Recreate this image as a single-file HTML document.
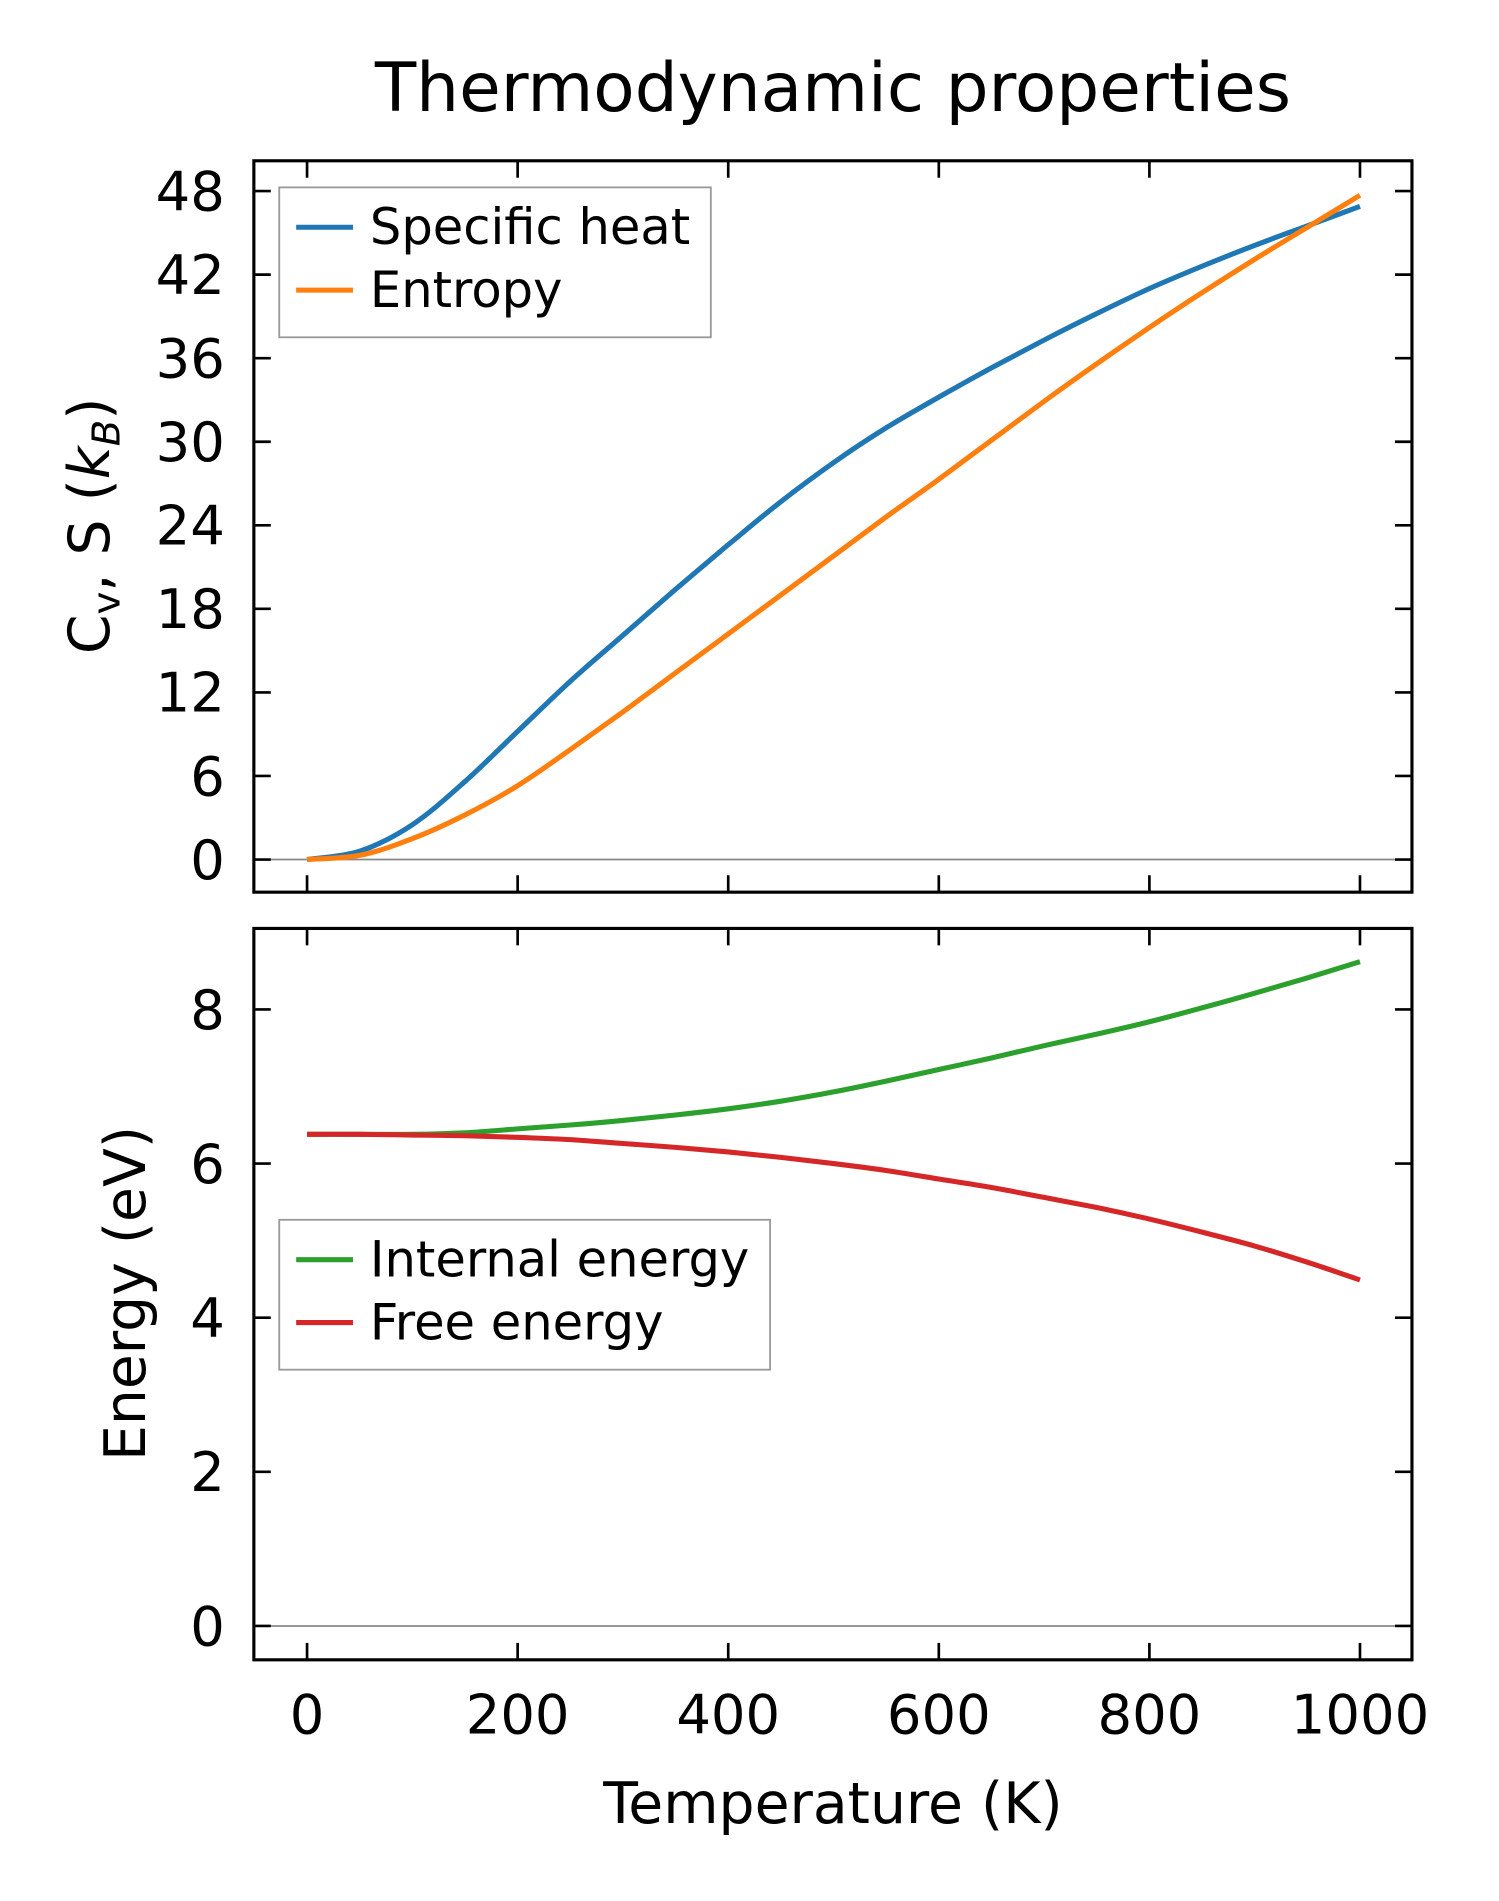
<!DOCTYPE html>
<html><head><meta charset="utf-8"><style>
html,body{margin:0;padding:0;background:#fff;}
svg{display:block;}
text{font-family:"DejaVu Sans","Liberation Sans",sans-serif;fill:#000;}
</style></head><body>
<svg id="chart" width="1499" height="1901" viewBox="0 0 1240 1572.5" preserveAspectRatio="none" xmlns="http://www.w3.org/2000/svg">
<text x="689" y="92" font-size="56" text-anchor="middle">Thermodynamic properties</text>
<g id="top"></g>
<g id="bot"></g>
<text x="689" y="1508" font-size="47" text-anchor="middle">Temperature (K)</text>
<text transform="translate(90,435) rotate(-90)" font-size="47" text-anchor="middle">C<tspan font-size="32" dy="9">v</tspan><tspan dy="-9">, S (</tspan><tspan font-style="italic">k</tspan><tspan font-size="32" dy="9" font-style="italic">B</tspan><tspan dy="-9">)</tspan></text>
<text transform="translate(120,1070) rotate(-90)" font-size="47" text-anchor="middle">Energy (eV)</text>
</svg>
<script>
const temps = [0,50,100,150,200,250,300,350,400,450,500,550,600,650,700,750,800,850,900,950,1000];
const specificHeat = [0,0.6,2.5,5.6,9.2,12.8,16.1,19.4,22.6,25.7,28.5,31.0,33.2,35.3,37.3,39.2,41.0,42.6,44.1,45.5,46.9];
const entropy = [0,0.3,1.5,3.2,5.3,7.9,10.6,13.4,16.2,19.0,21.8,24.6,27.3,30.1,32.9,35.6,38.2,40.7,43.1,45.4,47.7];
const internalEnergy = [6.38,6.38,6.38,6.40,6.45,6.50,6.56,6.63,6.71,6.81,6.93,7.07,7.22,7.37,7.53,7.68,7.84,8.02,8.21,8.41,8.62];
const freeEnergy = [6.38,6.38,6.37,6.36,6.34,6.31,6.26,6.21,6.15,6.08,6.00,5.91,5.80,5.69,5.56,5.43,5.28,5.11,4.93,4.72,4.49];
const xTicks = [0,200,400,600,800,1000];
const topTicks = [0,6,12,18,24,30,36,42,48];
const botTicks = [0,2,4,6,8];
const NS="http://www.w3.org/2000/svg";
const L=210,R=1168;
const xs=v=>254+(v/1000)*871;
function mk(tag,attrs,parent){const e=document.createElementNS(NS,tag);for(const k in attrs)e.setAttribute(k,attrs[k]);parent.appendChild(e);return e;}
function smooth(pts){
  let d='M'+pts[0][0].toFixed(1)+','+pts[0][1].toFixed(1);
  for(let i=0;i<pts.length-1;i++){
    const p0=pts[Math.max(0,i-1)],p1=pts[i],p2=pts[i+1],p3=pts[Math.min(pts.length-1,i+2)];
    const c1=[p1[0]+(p2[0]-p0[0])/6,p1[1]+(p2[1]-p0[1])/6];
    const c2=[p2[0]-(p3[0]-p1[0])/6,p2[1]-(p3[1]-p1[1])/6];
    d+='C'+c1[0].toFixed(1)+','+c1[1].toFixed(1)+' '+c2[0].toFixed(1)+','+c2[1].toFixed(1)+' '+p2[0].toFixed(1)+','+p2[1].toFixed(1);
  }
  return d;
}
function panel(g,top,bottom,ys,ticks,series,legend,pname){
  mk('line',{x1:L,x2:R,y1:ys(0),y2:ys(0),stroke:'#888','stroke-width':1.5},g);
  series.forEach(s=>{
    const p=mk('path',{d:smooth(temps.map((t,i)=>[xs(t),ys(s.v[i])])),fill:'none',stroke:s.c,'stroke-width':4.2},g);
    
    
  });
  xTicks.forEach(t=>{
    const a=mk('line',{x1:xs(t),x2:xs(t),y1:bottom,y2:bottom-14,stroke:'#000','stroke-width':2.2},g);
    
    
    mk('line',{x1:xs(t),x2:xs(t),y1:top,y2:top+14,stroke:'#000','stroke-width':2.2},g);
  });
  ticks.forEach(t=>{
    const y=ys(t);
    const a=mk('line',{x1:L,x2:L+14,y1:y,y2:y,stroke:'#000','stroke-width':2.2},g);
    
    
    mk('line',{x1:R,x2:R-14,y1:y,y2:y,stroke:'#000','stroke-width':2.2},g);
    const tx=mk('text',{x:186,y:y+16,'font-size':45,'text-anchor':'end'},g);
    tx.textContent=t;
    
    
  });
  const f=mk('rect',{x:L,y:top,width:R-L,height:bottom-top,fill:'none',stroke:'#000','stroke-width':2.6},g);
  
  
  const lg=mk('g',{},g);
  
  
  mk('rect',{x:231,y:legend.y,width:legend.w,height:124,fill:'#fff',stroke:'#999','stroke-width':1.5},lg);
  series.forEach((s,i)=>{
    const yy=legend.y+33+i*52;
    mk('line',{x1:245,x2:292,y1:yy,y2:yy,stroke:s.c,'stroke-width':4.2},lg);
    const tx=mk('text',{x:306,y:yy+14,'font-size':41},lg);
    tx.textContent=s.label;
    
    
  });
}
panel(document.getElementById('top'),133,738,v=>711-v*11.52,topTicks,
  [{v:specificHeat,c:'#1f77b4',n:'specific-heat',label:'Specific heat'},{v:entropy,c:'#ff7f0e',n:'entropy',label:'Entropy'}],
  {y:155,w:357},'top');
panel(document.getElementById('bot'),768,1373,v=>1345-v*63.75,botTicks,
  [{v:internalEnergy,c:'#2ca02c',n:'internal-energy',label:'Internal energy'},{v:freeEnergy,c:'#d62728',n:'free-energy',label:'Free energy'}],
  {y:1009,w:406},'bottom');
const svg=document.getElementById('chart');
xTicks.forEach(t=>{
  const tx=mk('text',{x:xs(t),y:1434,'font-size':45,'text-anchor':'middle'},svg);
  tx.textContent=t;
  
  
});
</script>
</body></html>
